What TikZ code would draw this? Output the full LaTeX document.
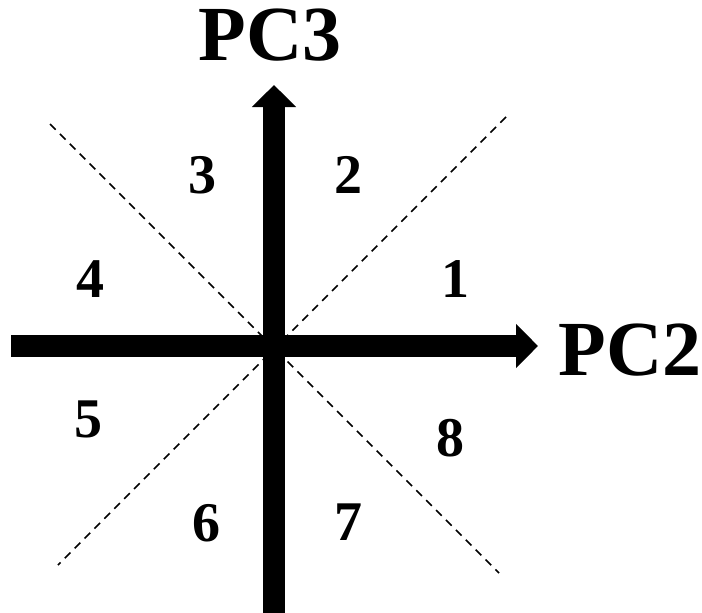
\documentclass[tikz,border=0pt]{standalone}
\usepackage{fontspec}
\setmainfont{Liberation Serif}
\usetikzlibrary{arrows.meta}
\begin{document}
\begin{tikzpicture}[x=1pt,y=-1pt,
  axis/.style={line width=22pt,-{Triangle[length=22pt,width=43pt]}},
  guide/.style={line width=1.6pt,dash pattern=on 8pt off 6pt},
  biglabel/.style={font=\fontsize{78}{80}\selectfont\bfseries,anchor=base,inner sep=0pt},
  sector/.style={font=\fontsize{56}{60}\selectfont\bfseries,anchor=base,inner sep=0pt}]
\useasboundingbox (0,0) rectangle (702,613);
% coordinates
\coordinate (xl) at (11,346);
\coordinate (xr) at (538,346);
\coordinate (yb) at (274,616);
\coordinate (yt) at (274,85);
\coordinate (nw) at (50,124);
\coordinate (se) at (499,573);
\coordinate (ne) at (506,117);
\coordinate (sw) at (58,565);
% dashed guides
\draw[guide] (nw) -- (se);
\draw[guide] (ne) -- (sw);
% axes
\draw[axis] (xl) -- (xr);
\draw[axis] (yb) -- (yt);
% labels
\node[biglabel] (pc3) at (270,60) {PC3};
\node[biglabel] (pc2) at (630,375) {PC2};
\node[sector] (s1) at (455,297) {1};
\node[sector] (s2) at (348,193) {2};
\node[sector] (s3) at (202,193) {3};
\node[sector] (s4) at (90,297) {4};
\node[sector] (s5) at (88,437) {5};
\node[sector] (s6) at (206,541) {6};
\node[sector] (s7) at (348,540) {7};
\node[sector] (s8) at (450,456) {8};
\end{tikzpicture}
\end{document}
